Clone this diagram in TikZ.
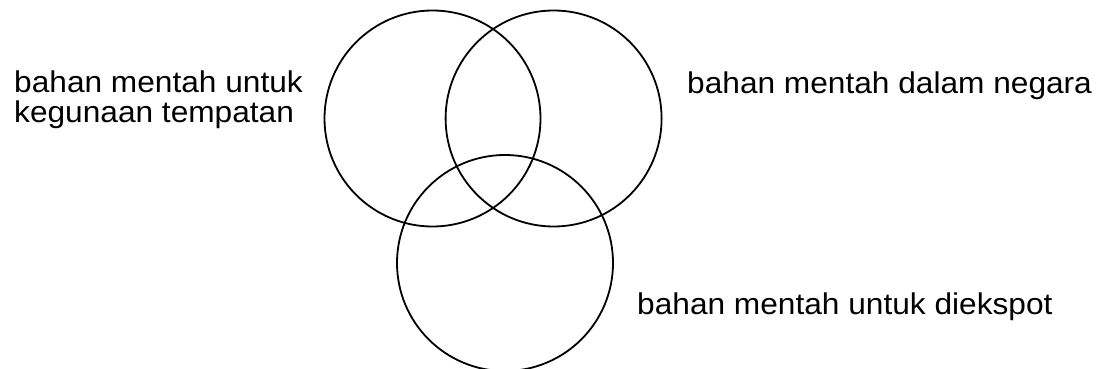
\documentclass[tikz,border=0pt]{standalone}
\usepackage{fontspec}
\setmainfont{Liberation Sans}
\begin{document}
\begin{tikzpicture}[x=1pt,y=-1pt,
  ring/.style={draw=black, line width=1.8pt, circle, minimum size=216pt, inner sep=0pt},
  lbl/.style={anchor=base west, inner sep=0pt, align=left, xscale=1.055,
    font=\fontsize{30}{30.5}\selectfont}]
\useasboundingbox (0,0) rectangle (1100,369);
\node[ring] (c1) at (432.5,118.5) {};
\node[ring] (c2) at (553.6,118.5) {};
\node[ring] (c3) at (505,263) {};
\node[lbl] (t1) at (14,122.5) {bahan mentah untuk\\kegunaan tempatan};
\node[lbl] (t2) at (687,93.5) {bahan mentah dalam negara};
\node[lbl] (t3) at (637,314.5) {bahan mentah untuk diekspot};
\end{tikzpicture}
\end{document}
